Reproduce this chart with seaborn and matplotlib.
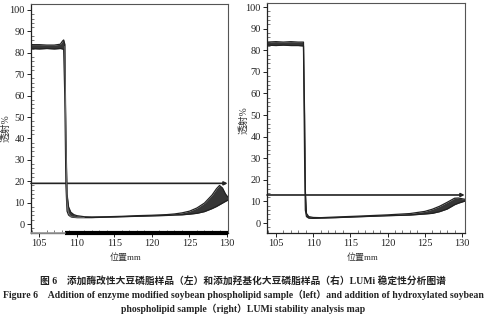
import numpy as np
import pandas as pd
import matplotlib
matplotlib.use("Agg")
import matplotlib.pyplot as plt
import seaborn as sns

# ---------------- data ----------------
# Left panel: enzyme-modified soybean phospholipid; envelope of the transmission profiles
left_x = [103.9, 105, 106, 107, 107.8, 108.1, 108.25, 108.4, 108.55, 108.7, 108.9, 109.2,
          109.6, 110, 111, 112, 114, 116, 118, 120, 122, 123, 124, 125, 126, 127,
          128, 128.6, 129.0, 129.4, 129.8, 130.13]
left_upper = [83.8, 83.8, 83.6, 83.6, 84.0, 85.5, 86.0, 84.0, 40.0, 14.0, 8.0, 5.5,
              4.4, 3.9, 3.4, 3.3, 3.4, 3.6, 3.9, 4.1, 4.4, 4.7, 5.2, 6.0, 7.5, 9.8,
              13.5, 16.5, 18.0, 16.8, 14.0, 12.5]
left_lower = [82.0, 81.8, 82.0, 81.8, 82.0, 81.8, 81.5, 60.0, 18.0, 6.0, 4.2, 3.4,
              3.1, 3.0, 3.0, 3.0, 3.2, 3.4, 3.6, 3.8, 4.0, 4.2, 4.3, 4.6, 5.0, 5.8,
              7.2, 8.2, 9.0, 9.8, 10.6, 11.2]
# first (reference) profile drawn as a thin grey line on the left panel
left_first_x = [108.4, 108.55, 108.7, 108.9, 109.2, 109.5, 110, 111]
left_first_y = [83.0, 40.0, 10.0, 5.0, 3.5, 3.3, 3.1, 3.1]
left_threshold = 19.0

# Right panel: hydroxylated soybean phospholipid
right_x = [103.8, 105, 106, 107, 108, 108.7, 108.85, 108.95, 109.1, 109.4, 110, 111,
           113, 116, 120, 123, 125, 126, 127, 128, 129, 129.5, 130.4]
right_upper = [83.8, 84.0, 83.8, 84.0, 83.8, 83.8, 50.0, 15.0, 4.5, 3.0, 2.6, 2.5,
               2.8, 3.2, 3.8, 4.4, 5.4, 6.4, 7.8, 9.6, 11.5, 11.6, 11.0]
right_lower = [82.4, 82.2, 82.4, 82.2, 82.2, 82.0, 30.0, 6.0, 3.0, 2.3, 2.2, 2.3,
               2.5, 2.9, 3.4, 3.7, 4.2, 4.5, 5.3, 6.5, 8.5, 9.2, 10.2]
right_threshold = 13.0

xticks = [105, 110, 115, 120, 125, 130]
yticks = [0, 10, 20, 30, 40, 50, 60, 70, 80, 90, 100]
ylabel = "透射%"
xlabel = "位置mm"
caption1 = "图 6　添加酶改性大豆磷脂样品（左）和添加羟基化大豆磷脂样品（右）LUMi 稳定性分析图谱"
caption2 = "Figure 6　Addition of enzyme modified soybean phospholipid sample（left）and addition of hydroxylated soybean"
caption3 = "phospholipid sample（right）LUMi stability analysis map"

# ---------------- style ----------------
sns.set_style("white")
plt.rcParams['font.family'] = ['Liberation Serif', 'Noto Sans CJK SC', 'DejaVu Sans']
plt.rcParams['axes.unicode_minus'] = False

fig = plt.figure(figsize=(4.86, 3.21), dpi=100)
axL = fig.add_axes([31/486, 1-233/321, (228-31)/486, (233-4)/321])
axR = fig.add_axes([267/486, 1-233/321, (465-267)/486, (233-3)/321])

band_color = "#363636"

def draw_panel(ax, xs, yu, yl, thr, xlim, ylim, ylab_xy):
    df = pd.DataFrame({"x": xs, "upper": yu, "lower": yl})
    ax.fill_between(df["x"], df["lower"], df["upper"], color=band_color, lw=0, zorder=2)
    sns.lineplot(data=df, x="x", y="upper", ax=ax, color="#222222", lw=0.9, sort=False,
                 estimator=None, zorder=3)
    sns.lineplot(data=df, x="x", y="lower", ax=ax, color="#222222", lw=0.9, sort=False,
                 estimator=None, zorder=3)
    ax.annotate("", xy=(xlim[1] - 0.05, thr), xytext=(xlim[0], thr),
                arrowprops=dict(arrowstyle="-|>", color="#222222", lw=1.2,
                                mutation_scale=5, shrinkA=0, shrinkB=0), zorder=4)
    ax.set_xlim(*xlim)
    ax.set_ylim(*ylim)
    ax.set_xticks(xticks)
    ax.set_yticks(yticks)
    ax.set_xticks(np.arange(104, 131, 1), minor=True)
    ax.set_yticks(np.arange(-2, 101, 2), minor=True)
    ax.tick_params(axis="both", which="both", bottom=True, left=True, top=False, right=False)
    ax.tick_params(axis="both", which="major", direction="out", length=3, width=0.7,
                   labelsize=7.5, pad=1.5, colors="#222222")
    ax.tick_params(axis="both", which="minor", direction="in", length=2, width=0.5,
                   colors="#444444")
    for side in ["top", "right"]:
        ax.spines[side].set_color("#555555")
        ax.spines[side].set_linewidth(0.8)
    for side in ["left", "bottom"]:
        ax.spines[side].set_color("#222222")
        ax.spines[side].set_linewidth(0.9)
    ax.set_xlabel(xlabel, fontsize=6.5, color="#333333")
    ax.set_ylabel(ylabel, fontsize=7, color="#333333")
    ax.xaxis.set_label_coords(0.48, -0.088)
    ax.yaxis.set_label_coords(*ylab_xy)

draw_panel(axL, left_x, left_upper, left_lower, left_threshold,
           (103.9, 130.13), (-4.2, 102.8), (-0.107, 0.46))
draw_panel(axR, right_x, right_upper, right_lower, right_threshold,
           (103.8, 130.4), (-4.6, 101.9), (-0.096, 0.49))

first = pd.DataFrame({"x": left_first_x, "y": left_first_y})
sns.lineplot(data=first, x="x", y="y", ax=axL, color="#777777", lw=0.6,
             estimator=None, sort=False, zorder=4)

# thick black bar along the bottom of the left panel
axL.plot([108.4, 130.13], [-4.2, -4.2], color="black", lw=3, solid_capstyle="butt",
         clip_on=False, zorder=5)
axL.plot([103.9, 108.4], [-4.2, -4.2], color="#9a9a9a", lw=1.2, clip_on=False, zorder=5)

# ---------------- caption ----------------
fig.text(0.5, 1-281/321, caption1, ha="center", va="center", fontsize=7,
         fontweight="bold", color="#222222")
fig.text(0.5, 1-295/321, caption2, ha="center", va="center", fontsize=7,
         fontweight="bold", color="#222222")
fig.text(0.5, 1-309/321, caption3, ha="center", va="center", fontsize=7,
         fontweight="bold", color="#222222")

fig.savefig("out.png", dpi=100)
